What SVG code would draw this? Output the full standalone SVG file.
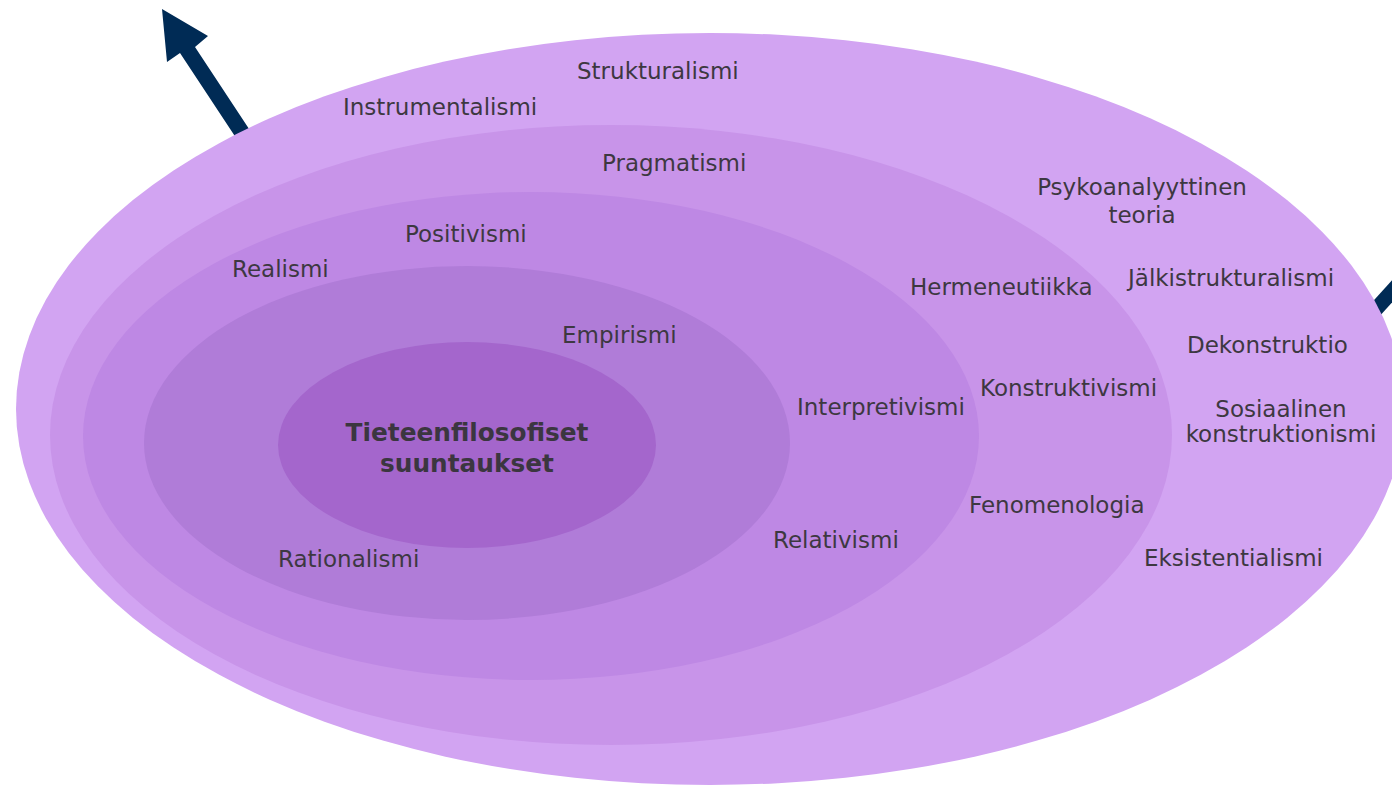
<svg xmlns="http://www.w3.org/2000/svg" width="1392" height="786" viewBox="0 0 1392 786">
<style>
.t{font-family:"DejaVu Sans",Verdana,sans-serif;font-size:23px;fill:#3d3841}
.b{font-family:"DejaVu Sans",Verdana,sans-serif;font-size:24.8px;font-weight:bold;fill:#3b3640;text-anchor:middle}
.m{text-anchor:middle}
.arrow{fill:#002b55}
</style>
<rect width="1392" height="786" fill="#ffffff"/>
<g id="connectors">
<polygon class="arrow" points="162,9 208,36 195,47 261,147 246,153 180,53 167,62"/>
<line x1="1300" y1="393" x2="1425" y2="255" stroke="#002b55" stroke-width="15"/>
</g>
<g id="ring5">
<ellipse cx="710" cy="409" rx="694" ry="376" fill="#d2a4f2"/>
<text class="t" x="577" y="79">Strukturalismi</text>
<text class="t" x="343" y="115">Instrumentalismi</text>
<text class="t m" x="1142" y="195">Psykoanalyyttinen</text>
<text class="t m" x="1142" y="223">teoria</text>
<text class="t" x="1128" y="286">Jälkistrukturalismi</text>
<text class="t" x="1187" y="353">Dekonstruktio</text>
<text class="t m" x="1281" y="417">Sosiaalinen</text>
<text class="t m" x="1281" y="442">konstruktionismi</text>
<text class="t" x="1144" y="566">Eksistentialismi</text>
</g>
<g id="ring4">
<ellipse cx="611" cy="435" rx="561" ry="310" fill="#c894e9"/>
<text class="t" x="602" y="171">Pragmatismi</text>
<text class="t" x="910" y="295">Hermeneutiikka</text>
<text class="t" x="980" y="396">Konstruktivismi</text>
<text class="t" x="969" y="513">Fenomenologia</text>
</g>
<g id="ring3">
<ellipse cx="531" cy="436" rx="448" ry="244" fill="#be88e4"/>
<text class="t" x="405" y="242">Positivismi</text>
<text class="t" x="232" y="277">Realismi</text>
<text class="t" x="797" y="415">Interpretivismi</text>
<text class="t" x="773" y="548">Relativismi</text>
</g>
<g id="ring2">
<ellipse cx="467" cy="443" rx="323" ry="177" fill="#b07cd8"/>
<text class="t" x="562" y="343">Empirismi</text>
<text class="t" x="278" y="567">Rationalismi</text>
</g>
<g id="core">
<ellipse cx="467" cy="445" rx="189" ry="103" fill="#a466cc"/>
<text class="b" x="467" y="441">Tieteenfilosofiset</text>
<text class="b" x="467" y="472">suuntaukset</text>
</g>
</svg>
